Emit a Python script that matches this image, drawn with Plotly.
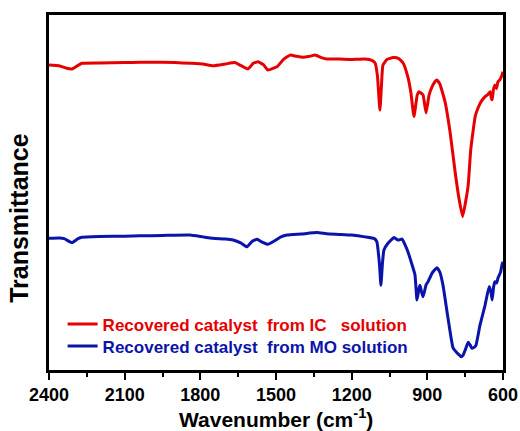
import plotly.graph_objects as go

# FTIR spectra of recovered catalyst (offset traces, arbitrary transmittance units)
wn_ic = [2400, 2360, 2330, 2309, 2285, 2269, 2200, 2100, 2039, 2000, 1900, 1841, 1790, 1750,
         1700, 1663, 1640, 1611, 1590, 1571, 1550, 1532, 1510, 1496, 1470, 1444, 1420, 1393,
         1370, 1345, 1320, 1298, 1250, 1200, 1147, 1120, 1107, 1098, 1088, 1082, 1076, 1060,
         1036, 1015, 996, 977, 965, 953, 940, 933, 925, 917, 905, 893, 881, 870, 862, 850,
         830, 810, 790, 775, 760, 748, 738, 728, 719, 710, 699, 685, 671, 660, 651, 646,
         643, 638, 632, 626, 620, 612, 604, 600]
t_ic = [85.9, 85.7, 85.0, 84.8, 85.8, 86.4, 86.5, 86.6, 86.7, 86.7, 86.6, 86.4, 86.2, 85.7,
        86.2, 86.6, 85.8, 84.8, 86.4, 86.8, 86.0, 84.5, 85.0, 85.4, 87.5, 88.7, 88.4, 88.1,
        88.3, 88.7, 88.0, 87.6, 87.6, 87.5, 87.6, 87.2, 86.5, 83.0, 73.2, 80.0, 85.9, 87.5,
        88.0, 87.8, 86.5, 82.5, 78.0, 71.4, 77.5, 78.4, 78.0, 77.5, 72.4, 77.5, 79.8, 81.2,
        81.7, 80.5, 75.6, 67.1, 55.9, 48.5, 43.2, 47.5, 52.1, 62.0, 67.1, 71.5, 73.8, 75.8,
        77.0, 77.6, 78.4, 76.5, 76.1, 79.0, 80.3, 79.3, 81.2, 81.8, 83.1, 84.0]

wn_mo = [2400, 2360, 2340, 2309, 2285, 2269, 2200, 2100, 2039, 1950, 1841, 1790, 1750, 1700,
         1670, 1640, 1615, 1595, 1575, 1555, 1532, 1510, 1480, 1456, 1400, 1337, 1300, 1246,
         1200, 1147, 1110, 1100, 1090, 1084, 1078, 1072, 1056, 1032, 1016, 1000, 990, 977,
         960, 949, 941, 933, 929, 923, 917, 905, 897, 881, 862, 850, 838, 818, 798, 782,
         770, 766, 758, 750, 738, 730, 723, 712, 707, 691, 671, 655, 648, 643, 637, 632,
         625, 620, 610, 604, 600]
t_mo = [37.1, 37.2, 37.0, 35.9, 37.0, 37.4, 37.6, 37.7, 37.8, 37.9, 38.0, 37.5, 37.1, 36.9,
        36.6, 35.8, 34.7, 36.2, 36.8, 36.0, 35.4, 36.2, 37.5, 38.0, 38.3, 38.7, 38.4, 38.2,
        38.0, 37.5, 37.0, 36.1, 30.0, 23.9, 30.0, 33.8, 35.7, 37.3, 36.6, 36.9, 35.5, 33.3,
        29.5, 26.8, 19.7, 23.0, 23.9, 22.0, 20.6, 24.0, 24.9, 27.3, 28.8, 27.5, 23.9, 14.6,
        6.2, 4.8, 4.0, 3.7, 4.2, 5.6, 7.8, 7.0, 6.1, 6.5, 7.0, 12.7, 18.3, 23.5, 22.0, 19.7,
        23.5, 24.9, 24.5, 25.9, 27.5, 29.6, 30.5]

x_ticks = [2400, 2100, 1800, 1500, 1200, 900, 600]

RED = "#E60000"
BLUE = "#0A14AA"
FONT = "Liberation Sans, Arial, sans-serif"
NB = "\u00a0"

fig = go.Figure()
fig.add_trace(go.Scatter(
    x=wn_ic, y=t_ic, mode="lines", legend="legend",
    line=dict(color=RED, width=3, shape="spline", smoothing=0.4),
    name=f'<span style="color:{RED}">Recovered catalyst{NB}{NB}from IC{NB}{NB}{NB}solution</span>',
))
fig.add_trace(go.Scatter(
    x=wn_mo, y=t_mo, mode="lines", legend="legend2",
    line=dict(color=BLUE, width=3, shape="spline", smoothing=0.4),
    name=f'<span style="color:{BLUE}">Recovered catalyst{NB}{NB}from MO solution</span>',
))

legend_style = dict(
    xanchor="left", yanchor="top", bgcolor="rgba(0,0,0,0)", borderwidth=0,
    font=dict(family=FONT, size=17, weight="bold"),
)

fig.update_layout(
    width=520, height=431,
    margin=dict(l=49, r=17, t=15, b=61, autoexpand=False),
    paper_bgcolor="white", plot_bgcolor="white",
    font=dict(family=FONT, color="black"),
    showlegend=True,
    legend=dict(x=0.03, y=0.179, **legend_style),
    legend2=dict(x=0.03, y=0.117, **legend_style),
    xaxis=dict(
        range=[2400, 600], tickvals=x_ticks, ticktext=[str(v) for v in x_ticks],
        ticks="outside", ticklen=7, tickwidth=2, tickcolor="black",
        minor=dict(dtick=150, tick0=600, ticks="outside", ticklen=4, tickwidth=2, tickcolor="black"),
        showline=True, linewidth=2.5, linecolor="black", mirror=True,
        showgrid=False, zeroline=False, automargin=False,
        ticklabelstandoff=0,
        tickfont=dict(family=FONT, size=18, weight="bold"),
    ),
    yaxis=dict(
        range=[0, 100], showticklabels=False, ticks="",
        showline=True, linewidth=2.5, linecolor="black", mirror=True,
        showgrid=False, zeroline=False, automargin=False,
    ),
    annotations=[
        dict(
            text="Transmittance", textangle=-90,
            xref="paper", yref="paper", x=-0.065, y=0.43,
            xanchor="center", yanchor="middle", showarrow=False,
            font=dict(family=FONT, size=25, weight="bold", color="black"),
        ),
        dict(
            text="Wavenumber (cm<sup>-1</sup>)",
            xref="paper", yref="paper", x=0.5, y=-0.134,
            xanchor="center", yanchor="middle", showarrow=False,
            font=dict(family=FONT, size=21, weight="bold", color="black"),
        ),
    ],
)

fig.write_html("out.html")
